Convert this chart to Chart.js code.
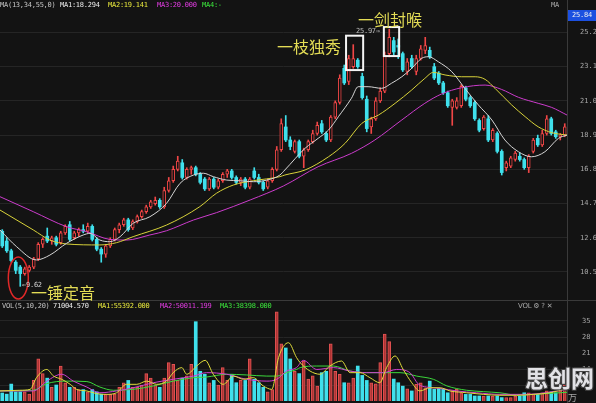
<!DOCTYPE html>
<html><head><meta charset="utf-8">
<script src="https://cdn.jsdelivr.net/npm/chart.js@4.4.1/dist/chart.umd.min.js"></script>
<style>
html,body{margin:0;padding:0;background:#131313;}
#wrap{position:relative;width:596px;height:403px;overflow:hidden;background:#131313;}
canvas{position:absolute;left:0;}
#c1{top:0;}
#c2{top:301px;}
.t{position:absolute;white-space:nowrap;font-family:'DejaVu Sans Mono',monospace;font-size:7px;letter-spacing:-0.25px;line-height:9px;z-index:5;}
.cjk{position:absolute;white-space:nowrap;font-family:'Noto Sans CJK SC';font-size:16px;line-height:16px;color:#e3dc55;z-index:5;}
.vline{position:absolute;left:567px;top:0;width:1px;height:403px;background:#3a3a3a;z-index:4;}
.hline{position:absolute;left:0;top:300px;width:596px;height:1px;background:#3a3a3a;z-index:4;}
</style></head>
<body>
<div id="wrap">
<canvas id="c1" width="596" height="301"></canvas>
<canvas id="c2" width="596" height="102"></canvas>
<div class="vline"></div><div class="hline"></div>

<div class="t" style="left:0;top:1px;color:#c4c4c4">MA(13,34,55,0)</div>
<div class="t" style="left:60px;top:1px;color:#ececec">MA1:18.294</div>
<div class="t" style="left:108px;top:1px;color:#e6e63c">MA2:19.141</div>
<div class="t" style="left:157px;top:1px;color:#e23ce2">MA3:20.000</div>
<div class="t" style="left:202px;top:1px;color:#3ce63c">MA4:-</div>
<div class="t" style="left:551px;top:1px;color:#a8a8a8">MA</div>
<div class="t" style="left:568px;top:10px;width:28px;height:11px;line-height:11px;background:#1c50e0;color:#f0f0f0;text-align:center;">25.84</div>

<div class="t" style="left:2px;top:302px;color:#c4c4c4">VOL(5,10,20)</div>
<div class="t" style="left:53px;top:302px;color:#ececec">71004.570</div>
<div class="t" style="left:98px;top:302px;color:#e6e63c">MA1:55392.000</div>
<div class="t" style="left:160px;top:302px;color:#e23ce2">MA2:50011.199</div>
<div class="t" style="left:220px;top:302px;color:#3ce63c">MA3:38398.000</div>
<div class="t" style="left:518px;top:302px;color:#a8a8a8;font-family:'DejaVu Sans'">VOL ⚙ ? ✕</div>
<div class="t" style="left:568px;top:393px;color:#a8a8a8;font-family:'Noto Sans CJK SC';font-size:9px;line-height:9px">万</div>

<div class="cjk" style="left:277px;top:38px">一枝独秀</div>
<div class="cjk" style="left:358px;top:11px">一剑封喉</div>
<div class="cjk" style="left:31px;top:284px">一锤定音</div>
<div class="t" style="left:356px;top:27px;color:#bdbdbd">25.97→</div>
<div class="t" style="left:22px;top:281px;color:#d0d0d0">←9.62</div>
<div class="t" style="left:525px;top:364px;font-family:'Noto Sans CJK SC';font-weight:bold;font-size:23px;letter-spacing:0;line-height:26px;color:#e2e2e6;text-shadow:1px 1px 0 #444,-1px -1px 0 #444,1px -1px 0 #444,-1px 1px 0 #444;z-index:6">思创网</div>
</div>

<script>
// ---- price candles (index 0..125) ----
const openP  = [13.0,12.4,11.8,11.1,10.8,10.4,10.6,10.8,11.3,12.2,12.7,12.4,12.6,12.3,12.9,13.4,12.6,12.9,13.1,13.0,13.3,12.5,11.9,11.6,12.1,12.5,13.1,13.4,13.7,13.2,13.6,13.9,14.2,14.5,14.7,14.9,14.5,15.5,16.1,16.8,17.2,16.3,16.8,16.9,16.5,16.2,15.6,16.2,15.7,16.1,16.5,16.7,16.3,16.0,16.2,15.7,16.7,16.3,16.0,15.7,16.1,16.8,18.0,19.4,18.6,17.9,18.5,17.6,18.0,18.5,19.0,19.6,19.0,18.6,20.0,20.9,23.0,22.2,23.1,23.5,22.5,21.1,19.4,19.9,21.0,21.6,23.9,24.7,24.4,23.9,22.8,23.6,22.8,23.6,24.1,24.1,23.1,22.7,22.1,21.5,20.6,20.6,20.7,21.8,21.2,20.9,19.8,19.3,19.9,18.6,19.0,17.9,16.9,17.0,17.4,17.6,17.4,16.9,17.9,18.7,18.3,19.0,19.9,19.1,18.8,18.9];
const highP  = [13.1,12.6,11.9,11.2,10.9,10.8,10.9,11.4,12.3,12.6,13.2,12.7,12.7,13.0,13.4,13.6,13.0,13.2,13.4,13.5,13.4,12.6,12.0,12.2,12.6,13.2,13.5,13.8,13.8,13.7,14.0,14.3,14.6,14.9,15.1,15.0,15.7,16.3,17.0,17.6,17.4,16.9,17.0,17.0,16.6,16.3,16.3,16.3,16.2,16.6,16.8,16.8,16.4,16.3,16.3,16.3,16.9,16.5,16.1,16.2,16.9,18.2,19.9,20.1,18.8,18.6,18.6,18.1,18.6,19.2,19.7,19.8,19.1,20.1,21.0,22.6,23.2,23.8,24.45,23.6,22.7,21.3,20.0,21.2,21.8,24.0,25.4,24.9,24.8,24.0,23.6,23.8,23.8,24.4,24.9,24.3,23.3,22.8,22.2,21.6,21.1,21.2,22.0,21.9,21.3,21.0,19.9,20.1,20.1,19.3,19.1,18.0,17.3,17.6,17.9,17.8,17.5,17.7,18.7,18.9,19.2,20.1,20.0,19.2,19.0,19.6];
const lowP   = [12.0,11.7,11.1,10.4,9.62,10.3,10.5,10.7,11.2,12.0,12.3,12.2,12.1,12.2,12.8,12.4,12.5,12.7,12.9,12.9,12.4,11.8,11.1,11.4,12.0,12.4,12.9,13.3,13.0,13.1,13.5,13.8,14.1,14.4,14.6,14.4,14.4,15.4,16.0,16.7,16.2,16.2,16.5,16.4,15.9,15.5,15.5,15.6,15.6,16.0,16.3,16.2,15.9,15.8,15.6,15.6,16.2,15.9,15.5,15.6,16.0,16.7,17.9,18.5,18.0,17.8,17.5,16.9,17.9,18.4,18.9,19.0,18.5,18.5,19.9,20.8,22.0,22.0,23.0,23.0,21.1,19.1,19.0,19.8,20.9,21.5,23.7,23.8,23.6,22.8,22.6,23.0,22.6,23.5,23.9,23.6,22.3,22.0,21.4,20.6,19.5,20.5,20.6,21.0,20.6,19.8,19.1,19.2,18.5,18.5,17.8,16.45,16.7,16.9,17.3,17.3,16.8,16.6,17.8,18.2,18.2,18.9,18.9,18.7,18.6,18.8];
const closeP = [12.1,11.8,11.2,10.6,10.4,10.7,10.8,11.3,12.2,12.5,12.4,12.6,12.2,12.9,13.3,12.5,12.9,13.1,13.0,13.3,12.5,11.9,11.6,12.1,12.5,13.1,13.4,13.7,13.1,13.6,13.9,14.2,14.5,14.8,14.9,14.5,15.5,16.1,16.8,17.3,16.3,16.8,16.9,16.5,16.0,15.6,16.2,15.7,16.1,16.5,16.7,16.3,16.0,16.2,15.7,16.2,16.3,16.0,15.6,16.1,16.8,18.0,19.6,18.6,18.2,18.5,17.6,18.0,18.5,19.0,19.5,19.1,18.6,20.0,20.9,22.4,22.1,23.6,23.6,23.1,21.2,19.3,19.9,21.0,21.6,23.8,24.9,24.0,24.3,22.9,23.4,23.1,23.6,24.2,24.4,23.7,22.4,22.1,21.5,20.7,21.0,21.0,21.9,21.1,20.7,19.9,19.2,20.0,18.6,19.2,17.9,16.6,17.2,17.5,17.8,17.4,16.9,17.6,18.6,18.3,19.0,19.9,19.0,18.8,18.9,19.4];
// ---- volume (万) ----
const volume = [3.5,3,7.4,4,4,4,3,9,18.4,12,10,6,7,15.3,8,6,6,5,5,4,5,4,3,3,3,3,6,8,9,6,6,7,12,10,7,6,10,16.8,16,9,10,11,16,34.7,13,11.7,8,9,7,14.6,9,11.7,8,9,9,18.4,9.5,8,6,4,5,39,25,23.2,18.4,13,12,17.5,9.6,11,6.5,12.4,13,25,13,11.7,8,8,10,15.3,11.2,9,8,7.5,16.8,29.3,26,9.6,8,6.5,5.3,4.4,7.3,8,5.8,8.7,5.1,5.5,5.1,3.6,4.4,5.1,3.6,2.9,2.9,2.2,2.2,2.2,2.2,2.2,2.2,1.5,1.5,1.5,2.2,2.2,3.6,3.6,3,3,3.6,4.4,4,3.6,4.4,7.1];
// ---- price moving averages (x = candle index) ----
const ma13X = [-0.5,3.2,7.6,10.6,14.3,18,19.5,21.7,23.9,26.2,29.1,32.8,36.5,39.5,42.5,44.7,46.9,49.9,52.8,55.8,58.8,61.7,62.8,67.3,70.2,72.5,74.7,77.6,79.1,81.3,84.3,86.5,88.8,91,93.2,94.7,96.9,99.9,102.8,105.8,108.8,111.7,114.7,117.6,120.6,123.6,125.5];
const ma13Y = [13.08,12.05,11.24,11.54,12.26,12.77,12.87,12.46,12.36,12.67,13.49,13.89,14.71,15.94,16.45,16.56,16.35,16.14,16.1,16.04,16.14,16.45,16.76,18.09,18.7,19.21,20.03,21.16,21.87,21.87,21.77,22.08,22.48,23.0,23.61,23.71,23.4,22.79,21.77,20.75,19.83,18.6,17.88,17.57,17.88,18.7,18.9];
const ma34X = [-0.5,6.9,10.6,14.3,21.7,25.4,29.1,36.5,43.9,47.6,51.4,55.8,61.7,62.8,67.3,72.5,76.2,79.9,83.6,87.3,91,93.9,95.8,98.4,102.1,105.1,107.3,109.5,113.2,116.2,119.1,122.1,125.5];
const ma34Y = [14.3,13.08,12.46,12.22,12.16,12.3,12.67,13.38,14.51,15.33,15.84,16.1,16.35,16.45,16.76,17.57,18.4,19.62,20.13,20.85,21.67,22.38,22.75,22.59,22.48,22.48,22.32,21.77,20.75,20.03,19.41,19.05,18.9];
const ma55X = [-0.5,6.9,14.3,18.8,23.9,27.6,32.8,36.5,42.5,47.6,55.1,62.5,70.2,77.6,82.8,88.8,93.9,97.6,102.1,107.3,110.9,114.7,119.1,122.1,125.5];
const ma55Y = [15.12,14.2,13.28,12.97,12.5,12.46,12.77,13.03,13.69,14.14,14.92,15.78,16.96,17.78,18.6,19.83,20.85,21.42,21.81,21.97,21.71,21.22,20.85,20.6,20.13];
// ---- volume moving averages ----
const vma5X = [-0.5,3.9,6.2,7.6,9.9,11.4,13.2,15.1,16.5,18.8,21,23.2,25.4,27.6,29.9,32.1,34.3,36.5,38,39.9,41,43.2,45.1,46.9,49.1,51.4,53.6,55.8,58,59.9,61.4,63.6,65.4,66.2,68.4,70.6,72.8,75.4,77.3,79.5,81.7,83.9,85.4,87.3,89.1,91,92.8,95.1,97.3,99.5,103.2,106.9,110.6,114.3,118,121.7,125.5];
const vma5Y = [4.4,4.7,5.1,10.2,13.8,10.9,9.5,7.3,5.1,4.4,3.2,2.9,3.6,7.3,7.3,8.7,7.3,8.7,12.4,14.6,11.7,15.3,17.8,11.7,7.3,10.9,9.5,10.2,6.6,5.1,19,25.5,19,16.8,13.1,11.7,15.3,17.5,12.4,12.4,10.2,8.0,14.6,19.7,13.8,8.0,4.4,5.8,5.8,4.4,3.6,2.9,2.5,2.5,2.9,3.6,5.5];
const vma10X = [-0.5,6.9,9.9,13.2,15.8,18.8,21.7,25.4,29.1,33.6,38,42.5,45.4,49.9,54.3,58.8,61,63.2,65.4,66.9,69.9,73.6,77.3,81,84.7,87.6,90.6,92.5,94.3,97.3,101,105.4,110.6,116.5,125.5];
const vma10Y = [4.4,4.4,8.7,11.7,8.7,6.1,3.6,4.4,5.8,8.0,9.5,10.9,12.4,11.7,9.5,8.7,9.5,13.1,14.6,17.8,13.8,14.6,13.1,12.4,12.4,13.8,12.4,7.3,6.1,5.5,4.4,3.6,2.9,2.9,5.0];
const vma20X = [-0.5,6.9,9.9,14.3,18.8,21.7,24.7,29.1,33.6,38,42.5,45.4,49.9,54.3,58.8,61,63.2,65.4,66.2,69.9,73.6,77.3,81,84.7,88.4,92.1,95.8,98.8,103.2,106.9,110.6,114.3,118,125.5];
const vma20Y = [4.4,4.7,7.6,8.7,8.5,6.1,4.7,5.1,6.6,8.7,10.2,10.5,11.7,11.4,10.9,10.9,12.4,13.8,14.6,15.3,15.3,13.1,12.4,12.4,12.4,10.9,9.5,6.6,4.7,4.1,3.6,2.6,2.9,3.8];
// ---- axis ticks ----
const priceTicks = [10.5,12.6,14.7,16.8,18.9,21.0,23.1,25.2];
const volTicks = [7,14,21,28,35];

const RED = '#f04646', CYAN = '#3fe0ec', BG = '#131313';
const idx = openP.map((_, i) => i);
const isUp = idx.map(i => closeP[i] >= openP[i]);
const pts = (xs, ys) => xs.map((x, k) => ({x: x, y: ys[k]}));

const lineDs = (xs, ys, color, order) => ({
  type: 'line', data: pts(xs, ys), borderColor: color, borderWidth: 1,
  pointRadius: 0, cubicInterpolationMode: 'monotone', order: order, fill: false
});

const annot = {
  id: 'annot',
  afterDatasetsDraw(chart) {
    const {ctx, scales: {x, y}} = chart;
    ctx.save();
    ctx.strokeStyle = '#f4f4f4'; ctx.lineWidth = 2;
    [[76.4, 80.2, 22.89, 25.0], [84.8, 88.2, 23.75, 25.53]].forEach(b => {
      const x0 = x.getPixelForValue(b[0]), x1 = x.getPixelForValue(b[1]);
      const y0 = y.getPixelForValue(b[2]), y1 = y.getPixelForValue(b[3]);
      ctx.strokeRect(x0, y1, x1 - x0, y0 - y1);
    });
    ctx.strokeStyle = '#e02828'; ctx.lineWidth = 1.5;
    ctx.beginPath();
    ctx.ellipse(x.getPixelForValue(3.57), y.getPixelForValue(10.13), 10, 21, 0, 0, Math.PI * 2);
    ctx.stroke();
    ctx.restore();
  }
};

const xAxis = { type: 'linear', min: -0.5, max: 125.5, display: false, offset: false, grid: {offset: false} };

const yAxisCommon = (ticksArr, fmt, pad) => ({
  position: 'right',
  afterFit(s) { s.width = 29; s.paddingTop = 0; s.paddingBottom = 0; },
  afterBuildTicks(s) { s.ticks = ticksArr.map(v => ({value: v})); },
  ticks: { callback: fmt, color: '#a8a8a8', padding: pad, autoSkip: false,
           font: {family: 'DejaVu Sans Mono', size: 7} },
  grid: { color: '#252525', drawTicks: false, lineWidth: 1 },
  border: { display: false }
});

new Chart(document.getElementById('c1'), {
  type: 'bar',
  data: {
    datasets: [
      lineDs(ma13X, ma13Y, '#d6d6d6', 0),
      lineDs(ma34X, ma34Y, '#d8d23a', 0),
      lineDs(ma55X, ma55Y, '#cc3ccc', 0),
      { data: idx.map(i => ({x: i, y: [Math.min(openP[i], closeP[i]), Math.max(openP[i], closeP[i])]})),
        backgroundColor: idx.map(i => isUp[i] ? BG : CYAN),
        borderColor: idx.map(i => isUp[i] ? RED : CYAN),
        borderWidth: idx.map(i => isUp[i] ? 1 : 0),
        borderSkipped: false, barThickness: 3, grouped: false, order: 1 },
      { data: idx.map(i => ({x: i, y: [lowP[i], highP[i]]})),
        backgroundColor: idx.map(i => isUp[i] ? RED : CYAN),
        borderWidth: 0, barThickness: 1, grouped: false, order: 2 }
    ]
  },
  options: {
    responsive: false, animation: false, devicePixelRatio: 1,
    layout: { padding: 0 },
    plugins: { legend: {display: false}, tooltip: {enabled: false} },
    scales: {
      x: xAxis,
      y: Object.assign({ min: 8.72, max: 27.19 }, yAxisCommon(priceTicks, v => v.toFixed(2), 13))
    }
  },
  plugins: [annot]
});

new Chart(document.getElementById('c2'), {
  type: 'bar',
  data: {
    datasets: [
      lineDs(vma5X, vma5Y, '#e0dc3c', 0),
      lineDs(vma10X, vma10Y, '#d040d0', 0),
      lineDs(vma20X, vma20Y, '#3cd83c', 0),
      { data: idx.map(i => ({x: i, y: volume[i]})),
        backgroundColor: idx.map(i => isUp[i] ? '#ad3434' : CYAN),
        borderColor: idx.map(i => isUp[i] ? '#e25252' : CYAN),
        borderWidth: idx.map(i => isUp[i] ? 1 : 0),
        borderSkipped: 'bottom', barThickness: 3, grouped: false, order: 1 }
    ]
  },
  options: {
    responsive: false, animation: false, devicePixelRatio: 1,
    layout: { padding: {top: 0, bottom: 2, left: 0, right: 0} },
    plugins: { legend: {display: false}, tooltip: {enabled: false} },
    scales: {
      x: xAxis,
      y: Object.assign({ min: 0, max: 43.75 }, yAxisCommon(volTicks, v => String(v), 15))
    }
  }
});
</script>
</body></html>
